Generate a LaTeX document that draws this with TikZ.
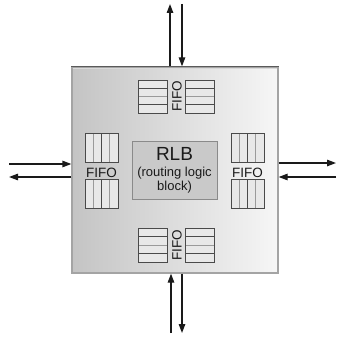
\documentclass[tikz,border=0pt]{standalone}
\usepackage{fontspec}
\setmainfont{Liberation Sans}
\usetikzlibrary{arrows.meta,calc}
\definecolor{boxedge}{HTML}{A4A4A4}
\definecolor{boxtop}{HTML}{5A5A5A}
\definecolor{shadeL}{HTML}{C4C4C4}
\definecolor{shadeR}{HTML}{F6F6F6}
\definecolor{rlbfill}{HTML}{C9C9C9}
\definecolor{rlbedge}{HTML}{8A8A8A}
\definecolor{cellfill}{HTML}{E8E8E8}
\definecolor{celledge}{HTML}{4A4A4A}
\definecolor{cellthin}{HTML}{9A9A9A}
\definecolor{ink}{HTML}{1A1A1A}
\tikzset{
  router/.style={draw=boxedge, line width=1.3pt, left color=shadeL, right color=shadeR,
    minimum width=206, minimum height=206, inner sep=0},
  rlb/.style={draw=rlbedge, line width=0.9pt, fill=rlbfill, minimum width=85,
    minimum height=58, inner sep=0},
  % queue drawn as stacked rows (for the top/bottom ports)
  rowq/.style={draw=celledge, line width=0.9pt, fill=cellfill, inner sep=0,
    minimum width=29, minimum height=33,
    path picture={
      \coordinate (nw) at (path picture bounding box.north west);
      \coordinate (sw) at (path picture bounding box.south west);
      \coordinate (ne) at (path picture bounding box.north east);
      \coordinate (se) at (path picture bounding box.south east);
      \draw[celledge, line width=0.9pt] ($(nw)!0.25!(sw)$) -- ($(ne)!0.25!(se)$);
      \draw[cellthin, line width=0.9pt] ($(nw)!0.5!(sw)$) -- ($(ne)!0.5!(se)$);
      \draw[celledge, line width=0.9pt] ($(nw)!0.75!(sw)$) -- ($(ne)!0.75!(se)$);
    }},
  % queue drawn as side-by-side columns (for the left/right ports)
  colq/.style={draw=celledge, line width=0.9pt, fill=cellfill, inner sep=0,
    minimum width=33, minimum height=29,
    path picture={
      \coordinate (nw) at (path picture bounding box.north west);
      \coordinate (sw) at (path picture bounding box.south west);
      \coordinate (ne) at (path picture bounding box.north east);
      \coordinate (se) at (path picture bounding box.south east);
      \draw[cellthin, line width=0.9pt] ($(nw)!0.25!(ne)$) -- ($(sw)!0.25!(se)$);
      \draw[celledge, line width=0.9pt] ($(nw)!0.5!(ne)$) -- ($(sw)!0.5!(se)$);
      \draw[cellthin, line width=0.9pt] ($(nw)!0.75!(ne)$) -- ($(sw)!0.75!(se)$);
    }},
  fifotext/.style={text=ink, font=\fontsize{13.5}{14}\selectfont, inner sep=0},
  link/.style={draw=ink, line width=1.3pt, -{Triangle[length=9pt,width=6.5pt]}}
}
\begin{document}
\begin{tikzpicture}[x=1pt,y=-1pt]
\useasboundingbox (0,0) rectangle (337,337);

% router body, with a darker top rim
\node[router] (sq) at (175,170) {};
\draw[boxtop, line width=1.3pt] (sq.north west) -- (sq.north east);
\draw[white!85!black, line width=0.6pt] ($(sq.north west)+(1.2,1.6)$) -- ($(sq.north east)+(-1.2,1.6)$);

% routing logic block
\node[rlb] (rlb) at (174.5,170) {};
\node[text=ink, font=\fontsize{19}{20}\selectfont, inner sep=0] (rlbname) at (174.5,154) {RLB};
\node[text=ink, font=\fontsize{13}{14}\selectfont, align=center, inner sep=0] (rlbsub) at (174.5,180)
  {(routing logic\\block)};

% north port queues
\node[rowq] (nq1) at (152.5,96.5) {};
\node[rowq] (nq2) at (200,96.5) {};
\node[fifotext, rotate=90] (nlab) at (177,96.5) {FIFO};

% south port queues
\node[rowq, minimum height=34] (sq1) at (152.5,245) {};
\node[rowq, minimum height=34] (sq2) at (200,245) {};
\node[fifotext, rotate=90] (slab) at (177,245) {FIFO};

% west port queues
\node[colq] (wq1) at (101.5,147.5) {};
\node[colq] (wq2) at (101.5,194) {};
\node[fifotext] (wlab) at (101.5,172.5) {FIFO};

% east port queues
\node[colq] (eq1) at (247.5,147.5) {};
\node[colq] (eq2) at (247.5,194) {};
\node[fifotext] (elab) at (247.5,172.5) {FIFO};

% outer link ends
\coordinate (nOut) at (170,4);
\coordinate (nIn)  at (182,4);
\coordinate (sIn)  at (171,333);
\coordinate (sOut) at (182,333);
\coordinate (wIn)  at (9,164);
\coordinate (wOut) at (9,177);
\coordinate (eOut) at (336,163);
\coordinate (eIn)  at (336,177);

% links
\draw[link] (sq.north -| nOut) -- (nOut);
\draw[link] (nIn) -- (sq.north -| nIn);
\draw[link] (sIn) -- (sq.south -| sIn);
\draw[link] (sq.south -| sOut) -- (sOut);
\draw[link] (wIn) -- (sq.west |- wIn);
\draw[link] (sq.west |- wOut) -- (wOut);
\draw[link] (sq.east |- eOut) -- (eOut);
\draw[link] (eIn) -- (sq.east |- eIn);
\end{tikzpicture}
\end{document}
